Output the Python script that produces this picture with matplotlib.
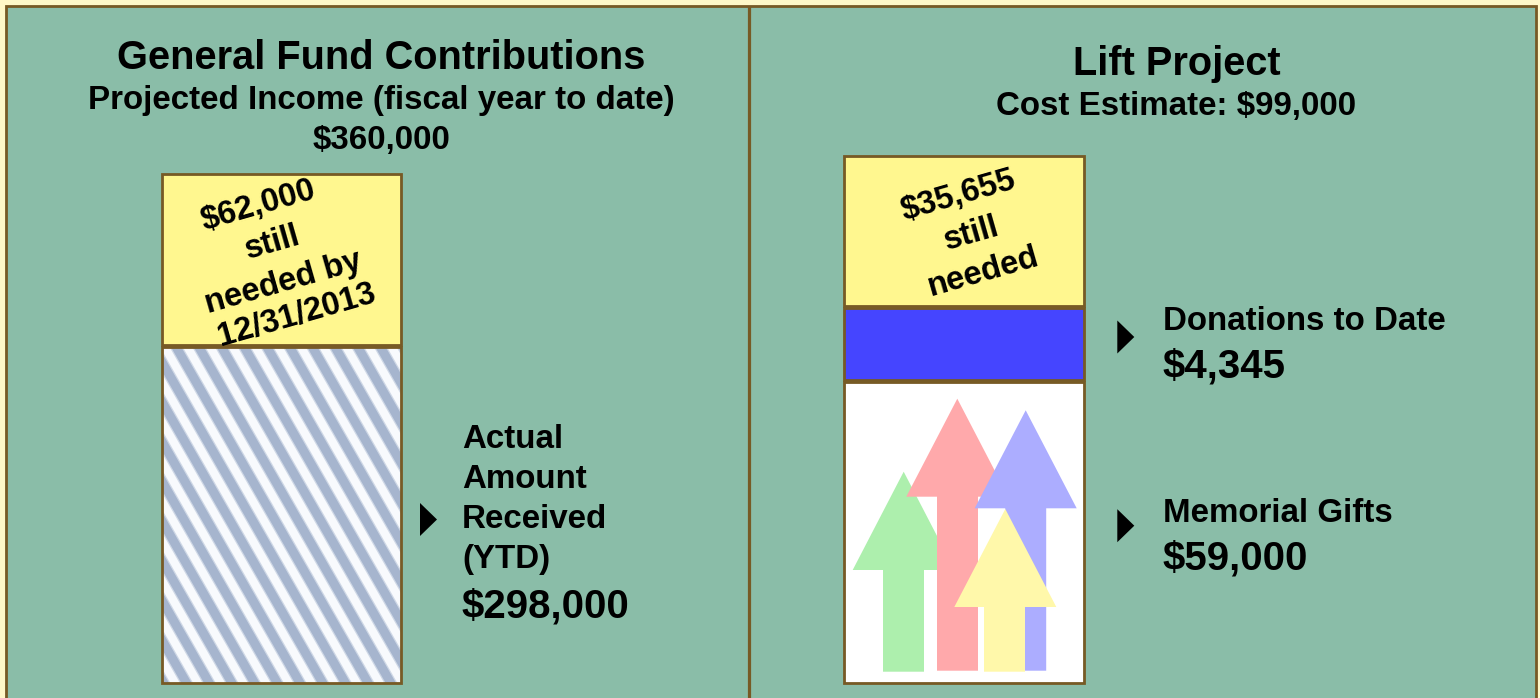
import numpy as np
import matplotlib
matplotlib.use("Agg")
import matplotlib.pyplot as plt
from matplotlib.patches import Rectangle

plt.rcParams['font.family'] = ['Liberation Sans', 'DejaVu Sans']

# ---- content
left_title = "General Fund Contributions"
left_sub = ["Projected Income (fiscal year to date)", "$360,000"]
right_title = "Lift Project"
right_sub = ["Cost Estimate: $99,000"]
left_still = ["$62,000", "still", "needed by", "12/31/2013"]
right_still = ["$35,655", "still", "needed"]
left_label = ["Actual", "Amount", "Received", "(YTD)"]
left_amount = "$298,000"
right_labels = ["Donations to Date", "Memorial Gifts"]
right_amounts = ["$4,345", "$59,000"]

# schematic segment heights (the source bars are not to scale)
left_heights = [171, 335.5]
right_heights = [150.5, 72, 300.5]

# arrows: head centre x, stem centre x, tip y, head-base y, bottom y
arrow_x = [903.7, 957.3, 1025.7, 1005.3]
arrow_stem = [903.5, 957.5, 1025.7, 1004.5]
arrow_tip = [471.7, 398.7, 410.3, 509]
arrow_base = [570, 496.7, 508.3, 607]
arrow_bottom = [671.7, 670.7, 670.7, 671.7]
arrow_colors = ['#ADEFAD', '#FFA9AB', '#ACADFF', '#FFF8AA']

BROWN = '#775A25'
TEAL = '#8ABDA8'
CREAM = '#FFF8C8'
YEL = '#FFF78F'
PX = 72 / 100

fig = plt.figure(figsize=(15.4, 6.98), dpi=100, facecolor=CREAM)
ax = fig.add_axes([0, 0, 1, 1])
ax.set_xlim(0, 1540)
ax.set_ylim(698, 0)
ax.axis('off')

# panel
ax.add_patch(Rectangle((6, 6), 1529.5, 720, fc=TEAL, ec=BROWN, lw=2.8 * PX, zorder=0))
ax.plot([749, 749], [6, 698], color=BROWN, lw=3.2 * PX, zorder=0.1, solid_capstyle='butt')


def seg(x0, w, top, h, fc, z, ec=BROWN):
    return ax.bar(x0, h, width=w, bottom=top, align='edge', color=fc, edgecolor=ec,
                  linewidth=2.8 * PX, zorder=z)[0]


# left bar
lx, lw_ = 162, 238.5
ltop = 174
seg(lx, lw_, ltop, left_heights[0], YEL, 0.5)
ly2 = ltop + left_heights[0] + 2
base = seg(lx, lw_, ly2, left_heights[1], '#F8FAFD', 1, ec='none')
period = 22.7
slope = 1.75
for x0 in np.arange(170.4 - 22.7 * 15, lx + lw_ + 20, period):
    for width, col, z in [(11.5, '#CFD8E6', 1.2), (9.0, '#A6B5CE', 1.3)]:
        ln, = ax.plot([x0, x0 + 560 / slope], [ly2 - 10, ly2 + 550], color=col, lw=width * PX,
                      zorder=z, solid_capstyle='butt')
        ln.set_clip_path(base)
seg(lx, lw_, ly2, left_heights[1], 'none', 1.5)

# right bar
rx, rw = 844, 239.5
rtop = 155.5
seg(rx, rw, rtop, right_heights[0], YEL, 0.5)
ry2 = rtop + right_heights[0] + 2
seg(rx, rw, ry2, right_heights[1], '#4545FF', 1)
ry3 = ry2 + right_heights[1] + 2
seg(rx, rw, ry3, right_heights[2], 'white', 1)

# arrows
for cx, sx, tip, b, bot, c in zip(arrow_x, arrow_stem, arrow_tip, arrow_base, arrow_bottom,
                                  arrow_colors):
    xs = [cx, cx + 51, sx + 20.5, sx + 20.5, sx - 20.5, sx - 20.5, cx - 51]
    ys = [tip, b, b, bot, bot, b, b]
    ax.fill(xs, ys, color=c, lw=0, zorder=2)


def t(x, y, s, size, ha='left', **kw):
    return ax.text(x, y, s, fontsize=size, fontweight='bold', ha=ha, va='baseline',
                   color='black', zorder=5, **kw)


t(381.5, 69, left_title, 28.6, 'center')
t(381.5, 109, left_sub[0], 23.9, 'center')
t(381.5, 149, left_sub[1], 23.9, 'center')
t(1177, 75, right_title, 28.6, 'center')
t(1176, 115, right_sub[0], 23.9, 'center')

for s, y in zip(left_label, [448, 488, 528, 568]):
    t(462, y, s, 23.9)
t(462, 617, left_amount, 29)
for s, a, y1, y2 in zip(right_labels, right_amounts, [330, 522], [378, 570]):
    t(1163, y1, s, 23.9)
    t(1163, y2, a, 29)

# pointer triangles
for x0, yc in [(420, 519.5), (1117.3, 337), (1117.3, 525.7)]:
    ax.fill([x0, x0 + 17, x0], [yc - 16.5, yc, yc + 16.5], color='black', lw=0, zorder=5)

# rotated text
for s, (x, y) in zip(left_still, [(258.5, 206), (272, 243), (283.5, 283), (297, 315)]):
    ax.text(x, y, s, fontsize=23.5, fontweight='bold', ha='center', va='center', rotation=16,
            rotation_mode='anchor', color='black', zorder=0.7)
for s, (x, y) in zip(right_still, [(958, 196), (971, 234), (983.5, 272)]):
    ax.text(x, y, s, fontsize=23.5, fontweight='bold', ha='center', va='center', rotation=16,
            rotation_mode='anchor', color='black', zorder=0.7)

fig.savefig('out.png', dpi=100, facecolor=CREAM)
